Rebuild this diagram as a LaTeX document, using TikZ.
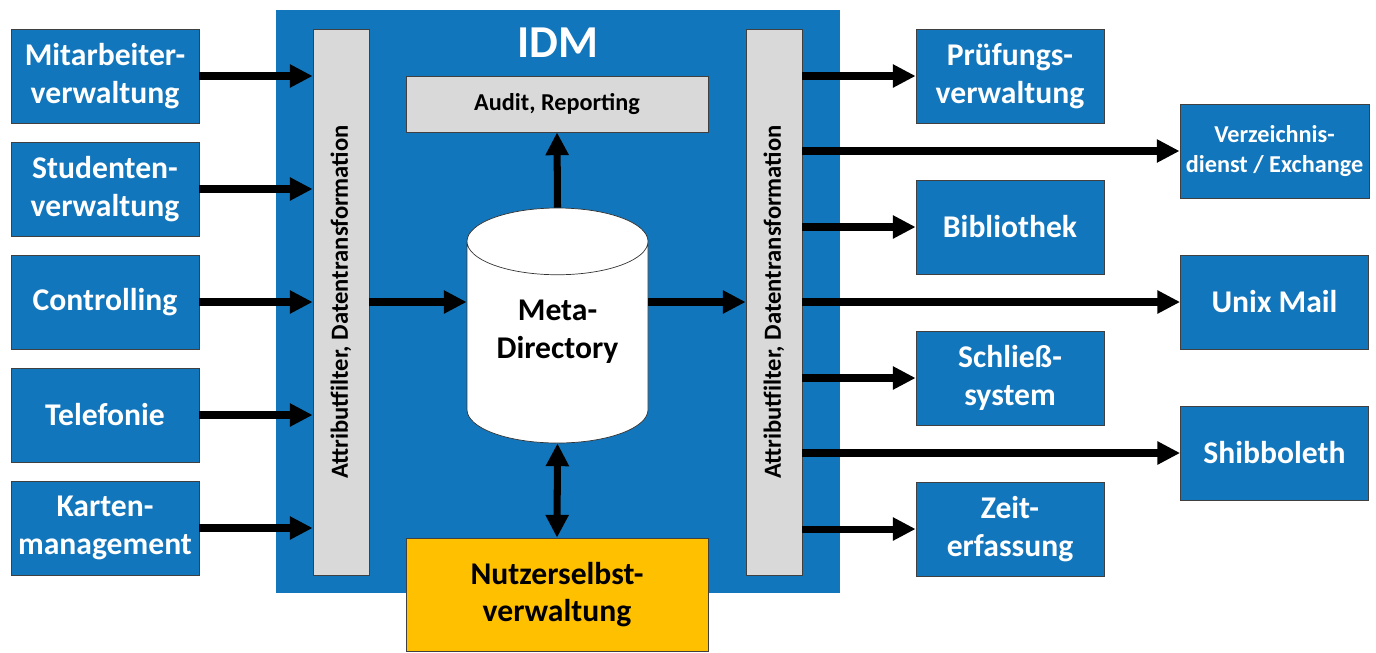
\documentclass[tikz,border=0pt]{standalone}
\usepackage{fontspec}
\setmainfont{Carlito}
\usepackage{graphicx}
\usetikzlibrary{positioning,shapes.geometric,arrows.meta}
\definecolor{idmblue}{RGB}{18,118,188}
\definecolor{bargrey}{RGB}{217,217,217}
\definecolor{selfgold}{RGB}{255,192,0}
\begin{document}
\begin{tikzpicture}[node distance=2.26cm, >={Triangle[length=13pt,width=12.5pt]}]
\tikzstyle{sys} = [rectangle, minimum width=3.76cm, minimum height=1.88cm, align=center, draw=black!75, fill=idmblue, text=white, font=\fontsize{18}{21.5}\selectfont\bfseries]
\tikzstyle{small} = [font=\fontsize{13.8}{17}\selectfont\bfseries]
\tikzstyle{bar} = [rectangle, minimum width=1.12cm, minimum height=10.92cm, draw=black!75, fill=bargrey, font=\fontsize{14}{16}\selectfont\bfseries]
\tikzstyle{arr} = [line width=4pt, ->]
\useasboundingbox (0,0) rectangle (27.52,-13.04);
% IDM block
\node (IDM) [rectangle, fill=idmblue, minimum width=11.28cm, minimum height=11.66cm, label={[anchor=north, yshift=-0.24cm, text=white, font=\fontsize{26}{30}\selectfont\bfseries]north:IDM}] at (11.16,-6.03) {};
% sources
\node (MV) [sys] at (2.1,-1.52) {Mitarbeiter-\\verwaltung};
\node (SV) [sys, below of=MV] {Studenten-\\verwaltung};
\node (Ctrl) [sys, below of=SV] {Controlling};
\node (Tel) [sys, below of=Ctrl] {Telefonie};
\node (KM) [sys, below of=Tel] {Karten-\\management};
% filters
\node (AFL) [bar] at (6.82,-6.04) {\rotatebox{90}{Attributfilter, Datentransformation}};
\node (AFR) [bar] at (15.48,-6.04) {\rotatebox{90}{Attributfilter, Datentransformation}};
\node (Audit) [rectangle, draw=black!75, fill=bargrey, minimum width=6.04cm, minimum height=1.12cm, small] at (11.14,-2.08) {Audit, Reporting};
\node (Meta) [cylinder, shape border rotate=90, aspect=0.5, minimum width=3.62cm, minimum height=4.7cm, text depth=22pt, draw=black!80, fill=white, align=center, font=\fontsize{18}{21.5}\selectfont\bfseries, anchor=shape center] at (11.15,-6.51) {Meta-\\Directory};
\node (NSV) [rectangle, draw=black!75, fill=selfgold, minimum width=6.04cm, minimum height=2.26cm, align=center, font=\fontsize{18}{21.5}\selectfont\bfseries] at (11.14,-11.89) {Nutzerselbst-\\verwaltung};
% targets
\node (PV) [sys] at (20.2,-1.52) {Prüfungs-\\verwaltung};
\node (Bib) [sys, below of=PV, node distance=3.02cm] {Bibliothek};
\node (SS) [sys, below of=Bib, node distance=3.02cm] {Schließ-\\system};
\node (ZE) [sys, below of=SS, node distance=3.02cm] {Zeit-\\erfassung};
\node (VD) [sys, small, text=white] at (25.49,-3.02) {Verzeichnis-\\dienst / Exchange};
\node (UM) [sys, below of=VD, node distance=3.02cm] {Unix Mail};
\node (Shib) [sys, below of=UM, node distance=3.02cm] {Shibboleth};
% connectors
\draw [arr] (MV.east) -- (MV.east -| AFL.west);
\draw [arr] (SV.east) -- (SV.east -| AFL.west);
\draw [arr] (Ctrl.east) -- (Ctrl.east -| AFL.west);
\draw [arr] (Tel.east) -- (Tel.east -| AFL.west);
\draw [arr] (KM.east) -- (KM.east -| AFL.west);
\draw [arr] (AFL.east) -- (AFL.east -| Meta.west);
\draw [arr] (Meta.east |- AFR.west) -- (AFR.west);
\draw [arr] (Meta.north) -- (Audit.south);
\draw [arr, <->] (Meta.south) -- (NSV.north);
\draw [arr] (AFR.east |- PV.west) -- (PV.west);
\draw [arr] (AFR.east |- VD.west) -- (VD.west);
\draw [arr] (AFR.east |- Bib.west) -- (Bib.west);
\draw [arr] (AFR.east |- UM.west) -- (UM.west);
\draw [arr] (AFR.east |- SS.west) -- (SS.west);
\draw [arr] (AFR.east |- Shib.west) -- (Shib.west);
\draw [arr] (AFR.east |- ZE.west) -- (ZE.west);
\end{tikzpicture}
\end{document}
